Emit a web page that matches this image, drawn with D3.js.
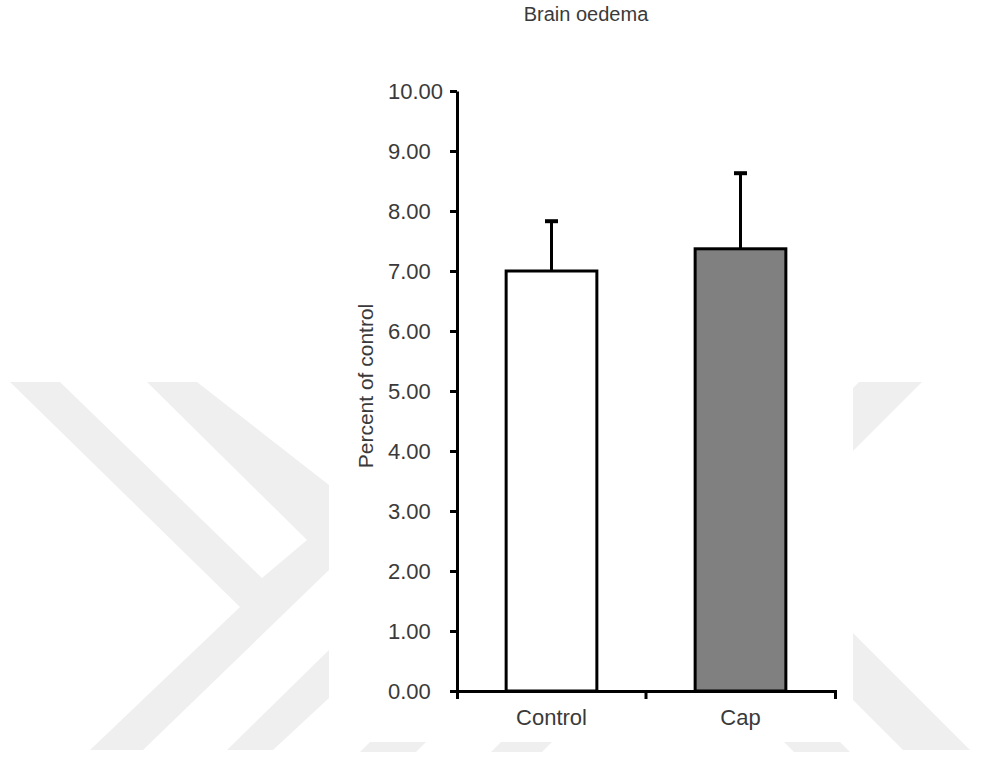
<!DOCTYPE html>
<html>
<head>
<meta charset="utf-8">
<script src="https://cdn.jsdelivr.net/npm/d3@7"></script>
<style>
  html, body { margin: 0; padding: 0; background: #ffffff; }
  svg { display: block; }
  text { font-family: "Liberation Sans", Arial, sans-serif; }
</style>
</head>
<body>
<svg id="chart" width="983" height="758"></svg>
<script>
// ---- data ----
const categories = ["Control", "Cap"];
const means = [7.00, 7.37];
const errors = [0.83, 1.26];
const barFills = ["#ffffff", "#808080"];
const yTickValues = [0, 1, 2, 3, 4, 5, 6, 7, 8, 9, 10];
const titleText = "Brain oedema";
const yLabelText = "Percent of control";

const svg = d3.select("#chart");

// ---- background watermark (decoration) ----
const wmColor = "#efefef";
const wmShapes = [
  [[10,382],[60,382],[262,578],[307,540],[147,382],[197,382],[329,485],[329,570],[143,750],[90,750],[240,607]],
  [[329,650],[329,698],[273,750],[227,750]],
  [[859,382],[922,382],[853,451],[853,388]],
  [[853,633],[970,750],[903,750],[853,700]]
];
svg.append("g").selectAll("polygon").data(wmShapes).join("polygon")
  .attr("points", d => d.map(p => p.join(",")).join(" "))
  .attr("fill", wmColor);
svg.append("g").selectAll("polygon")
  .data([[[370,742],[426,742],[416,752],[360,752]],[[501,742],[552,742],[542,752],[491,752]],[[784,742],[840,742],[850,752],[794,752]]])
  .join("polygon")
  .attr("points", d => d.map(p => p.join(",")).join(" "))
  .attr("fill", wmColor);
svg.append("rect").attr("x", 329).attr("y", 360).attr("width", 524).attr("height", 382).attr("fill", "#ffffff");

// ---- scales ----
const x = d3.scaleBand().domain(categories).range([457, 835]).paddingInner(0.52).paddingOuter(0.26);
const y = d3.scaleLinear().domain([0, 10]).range([691, 91]);

const textColor = "#3a3a3a";

// ---- bars ----
const data = categories.map((c, i) => ({ c, m: means[i], e: errors[i], f: barFills[i] }));

svg.append("g").selectAll("rect").data(data).join("rect")
  .attr("x", d => x(d.c))
  .attr("y", d => y(d.m))
  .attr("width", x.bandwidth())
  .attr("height", d => y(0) - y(d.m))
  .attr("fill", d => d.f)
  .attr("stroke", "#000")
  .attr("stroke-width", 3);

// ---- error bars ----
const eb = svg.append("g");
eb.selectAll("line.stem").data(data).join("line")
  .attr("class", "stem")
  .attr("x1", d => x(d.c) + x.bandwidth() / 2)
  .attr("x2", d => x(d.c) + x.bandwidth() / 2)
  .attr("y1", d => y(d.m))
  .attr("y2", d => y(d.m + d.e))
  .attr("stroke", "#000").attr("stroke-width", 3);
eb.selectAll("line.cap").data(data).join("line")
  .attr("class", "cap")
  .attr("x1", d => x(d.c) + x.bandwidth() / 2 - 6.5)
  .attr("x2", d => x(d.c) + x.bandwidth() / 2 + 6.5)
  .attr("y1", d => y(d.m + d.e))
  .attr("y2", d => y(d.m + d.e))
  .attr("stroke", "#000").attr("stroke-width", 4);

// ---- y axis ----
const yAxis = svg.append("g")
  .attr("transform", `translate(${x.range()[0]},0)`)
  .call(d3.axisLeft(y).tickValues(yTickValues).tickFormat(d3.format(".2f")).tickSize(7).tickSizeOuter(0));
yAxis.select(".domain").attr("stroke", "#000").attr("stroke-width", 3);
yAxis.selectAll(".tick line").attr("stroke", "#000").attr("stroke-width", 3);
yAxis.selectAll(".tick text")
  .attr("x", -69)
  .attr("text-anchor", "start")
  .attr("dy", "0.36em")
  .attr("fill", textColor)
  .style("font-size", "22px");
yAxis.selectAll("text").style("font-family", "'Liberation Sans', Arial, sans-serif");

// ---- x axis ----
const xAxis = svg.append("g")
  .attr("transform", `translate(0,${y(0)})`)
  .call(d3.axisBottom(x).tickSize(0).tickSizeOuter(8).tickPadding(18));
xAxis.select(".domain").attr("stroke", "#000").attr("stroke-width", 3);
xAxis.selectAll(".tick text")
  .attr("fill", textColor)
  .style("font-size", "22px")
  .style("font-family", "'Liberation Sans', Arial, sans-serif");
// category boundary tick between the two groups
const step = x.step();
const boundaries = categories.slice(1).map(c => x(c) - step * x.paddingInner() / 2);
xAxis.selectAll("line.boundary").data(boundaries).join("line")
  .attr("class", "boundary")
  .attr("x1", d => d).attr("x2", d => d)
  .attr("y1", 0).attr("y2", 8)
  .attr("stroke", "#000").attr("stroke-width", 3);

// ---- y label ----
svg.append("text")
  .attr("transform", "translate(373,386) rotate(-90)")
  .attr("text-anchor", "middle")
  .attr("fill", textColor)
  .style("font-size", "21px")
  .text(yLabelText);

// ---- title ----
svg.append("text")
  .attr("x", 586)
  .attr("y", 21)
  .attr("text-anchor", "middle")
  .attr("fill", textColor)
  .style("font-size", "20px")
  .text(titleText);
</script>
</body>
</html>
